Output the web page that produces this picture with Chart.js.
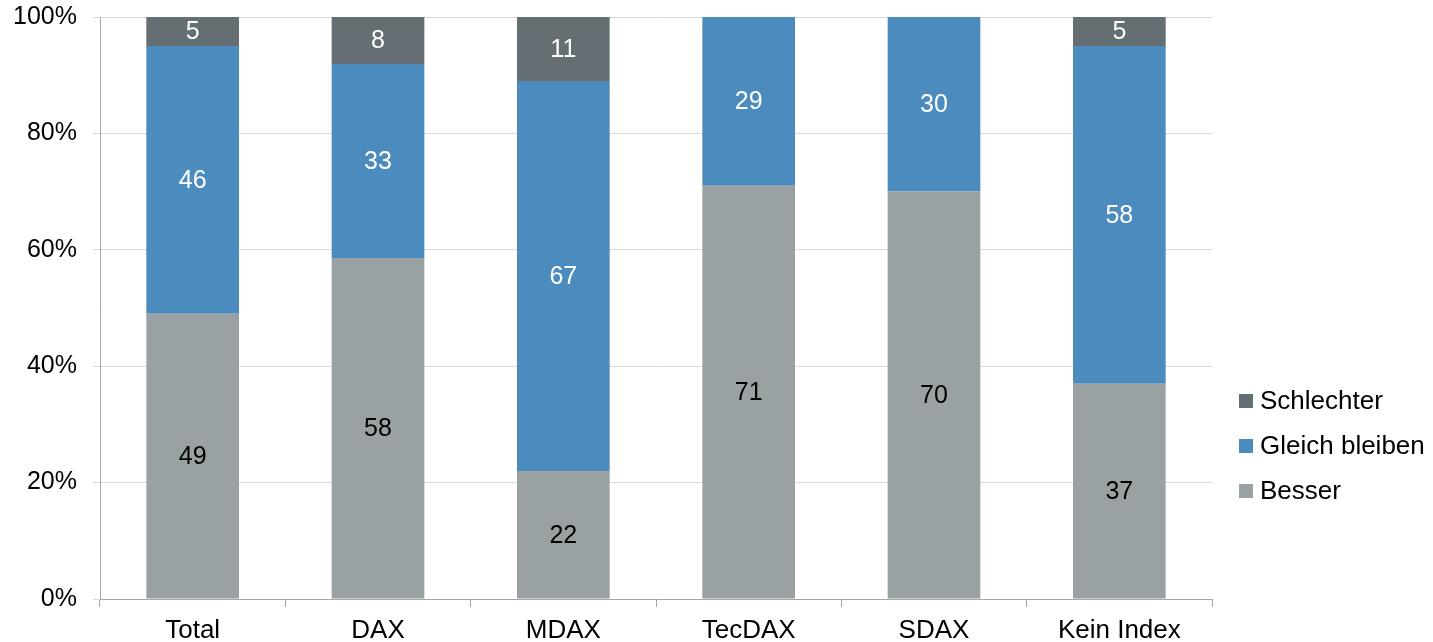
<!DOCTYPE html>
<html>
<head>
<meta charset="utf-8">
<script src="https://cdn.jsdelivr.net/npm/chart.js@4"></script>
<style>
    html, body { margin: 0; padding: 0; background: #fff; overflow: hidden; }
    #wrap { position: relative; width: 1433px; height: 674px; margin-top: -14px; }
    #legend { position: absolute; left: 1239px; top: 392px; font-family: "Liberation Sans", Arial, sans-serif; font-size: 26px; color: #000; }
    #legend div { height: 45px; display: flex; align-items: center; }
    #legend span.box { width: 14px; height: 14px; margin-right: 7px; display: inline-block; }
</style>
</head>
<body>
<div id="wrap">
    <canvas id="chart"></canvas>
    <div id="legend"></div>
</div>
<script>
const categories = ['Total', 'DAX', 'MDAX', 'TecDAX', 'SDAX', 'Kein Index'];
const besser = [49, 58, 22, 71, 70, 37];
const gleich = [46, 33, 67, 29, 30, 58];
const schlechter = [5, 8, 11, 0, 0, 5];
const yTicks = [0, 20, 40, 60, 80, 100];

const seriesNames = ['Besser', 'Gleich bleiben', 'Schlechter'];
const seriesColors = ['#9aa1a3', '#4b8bbe', '#646e73'];
const labelColors = ['#000', '#fff', '#fff'];
const raw = [besser, gleich, schlechter];

// stacked to 100%
const totals = categories.map((c, i) => besser[i] + gleich[i] + schlechter[i]);

const datasets = raw.map((vals, k) => ({
    label: seriesNames[k],
    data: vals.map((v, i) => v / totals[i] * 100),
    raw: vals,
    backgroundColor: seriesColors[k],
    borderWidth: 0,
    barPercentage: 0.5,
    categoryPercentage: 1
}));

// draw the numbers inside the segments
const barLabels = {
    id: 'barLabels',
    afterDatasetsDraw(chart) {
        const ctx = chart.ctx;
        ctx.save();
        ctx.font = '25px "Liberation Sans", Arial, sans-serif';
        ctx.textAlign = 'center';
        ctx.textBaseline = 'middle';
        chart.data.datasets.forEach((ds, k) => {
            const meta = chart.getDatasetMeta(k);
            meta.data.forEach((bar, i) => {
                const v = ds.raw[i];
                if (!v) return;
                ctx.fillStyle = labelColors[k];
                ctx.fillText(String(v), bar.x, (bar.y + bar.base) / 2 + 1);
            });
        });
        ctx.restore();
    }
};

new Chart(document.getElementById('chart'), {
    type: 'bar',
    data: { labels: categories, datasets: datasets },
    plugins: [barLabels],
    options: {
        responsive: true,
        maintainAspectRatio: false,
        animation: false,
        layout: { padding: { top: 0, right: 221, left: 0, bottom: 0 } },
        plugins: {
            legend: { display: false },
            tooltip: { enabled: false }
        },
        scales: {
            x: {
                stacked: true,
                grid: { drawOnChartArea: false, tickLength: 8, color: '#a6a6a6', offset: true },
                border: { color: '#a6a6a6' },
                ticks: { color: '#000', padding: 8, font: { family: '"Liberation Sans", Arial, sans-serif', size: 26 } },
                afterFit(scale) { scale.height = 61; }
            },
            y: {
                stacked: true,
                min: 0,
                max: 100,
                afterBuildTicks(scale) { scale.ticks = yTicks.map(v => ({ value: v })); },
                grid: { color: '#d9d9d9', tickLength: 7 },
                border: { color: '#a6a6a6' },
                ticks: {
                    color: '#000',
                    padding: 16,
                    font: { family: '"Liberation Sans", Arial, sans-serif', size: 25 },
                    callback: v => v + '%'
                },
                afterFit(scale) { scale.width = 100; }
            }
        }
    }
});

// legend, reversed like the original
const legend = document.getElementById('legend');
for (let k = seriesNames.length - 1; k >= 0; k--) {
    const row = document.createElement('div');
    row.innerHTML = '<span class="box" style="background:' + seriesColors[k] + '"></span>' + seriesNames[k];
    legend.appendChild(row);
}
</script>
</body>
</html>
